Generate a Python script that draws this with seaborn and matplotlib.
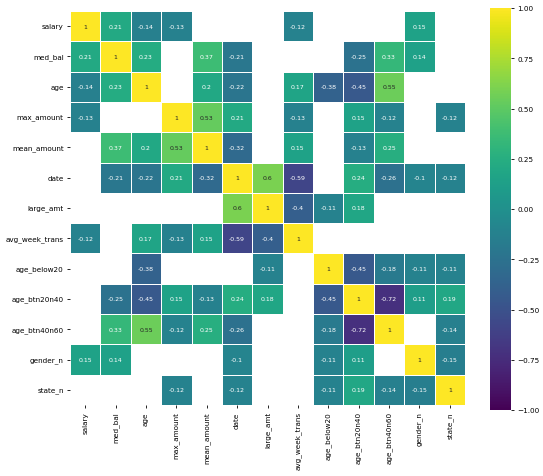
import numpy as np
import pandas as pd
import matplotlib
matplotlib.use("Agg")
import matplotlib.pyplot as plt
import seaborn as sns

# column names of the correlation matrix
labels = ["salary", "med_bal", "age", "max_amount", "mean_amount", "date",
          "large_amt", "avg_week_trans", "age_below20", "age_btn20n40",
          "age_btn40n60", "gender_n", "state_n"]

# correlation rows (nan = hidden cell, |r| < 0.1)
n = np.nan
salary         = [1, .21, -.14, -.13, n, n, n, -.12, n, n, n, .15, n]
med_bal        = [.21, 1, .23, n, .37, -.21, n, n, n, -.25, .33, .14, n]
age            = [-.14, .23, 1, n, .2, -.22, n, .17, -.38, -.45, .55, n, n]
max_amount     = [-.13, n, n, 1, .53, .21, n, -.13, n, .15, -.12, n, -.12]
mean_amount    = [n, .37, .2, .53, 1, -.32, n, .15, n, -.13, .25, n, n]
date           = [n, -.21, -.22, .21, -.32, 1, .6, -.59, n, .24, -.26, -.1, -.12]
large_amt      = [n, n, n, n, n, .6, 1, -.4, -.11, .18, n, n, n]
avg_week_trans = [-.12, n, .17, -.13, .15, -.59, -.4, 1, n, n, n, n, n]
age_below20    = [n, n, -.38, n, n, n, -.11, n, 1, -.45, -.18, -.11, -.11]
age_btn20n40   = [n, -.25, -.45, .15, -.13, .24, .18, n, -.45, 1, -.72, .11, .19]
age_btn40n60   = [n, .33, .55, -.12, .25, -.26, n, n, -.18, -.72, 1, n, -.14]
gender_n       = [.15, .14, n, n, n, -.1, n, n, -.11, .11, n, 1, -.15]
state_n        = [n, n, n, -.12, n, -.12, n, n, -.11, .19, -.14, -.15, 1]

corr = pd.DataFrame([salary, med_bal, age, max_amount, mean_amount, date,
                     large_amt, avg_week_trans, age_below20, age_btn20n40,
                     age_btn40n60, gender_n, state_n],
                    index=labels, columns=labels)

W, H = 543, 477
fig = plt.figure(figsize=(W / 100, H / 100), dpi=100)
ax = fig.add_axes([70 / W, 1 - 406 / H, 395 / W, 394 / H])
cax = fig.add_axes([490 / W, 1 - 411 / H, 21 / W, 402 / H])

sns.heatmap(corr, ax=ax, cbar_ax=cax, cmap="viridis", vmin=-1, vmax=1,
            annot=True, annot_kws={"size": 4.5}, linewidths=0.5,
            linecolor="white")

ax.tick_params(labelsize=5.2, length=2.5, width=0.6, pad=2)
ax.set_xticklabels(labels, rotation=90)
ax.set_yticklabels(labels, rotation=0)
cax.set_yticks([-1, -0.75, -0.5, -0.25, 0, 0.25, 0.5, 0.75, 1])
cax.set_yticklabels(["\u22121.00", "\u22120.75", "\u22120.50", "\u22120.25",
                     "0.00", "0.25", "0.50", "0.75", "1.00"])
cax.tick_params(labelsize=5.2, length=2.5, width=0.6, pad=2)

fig.savefig("out.png", dpi=100)
